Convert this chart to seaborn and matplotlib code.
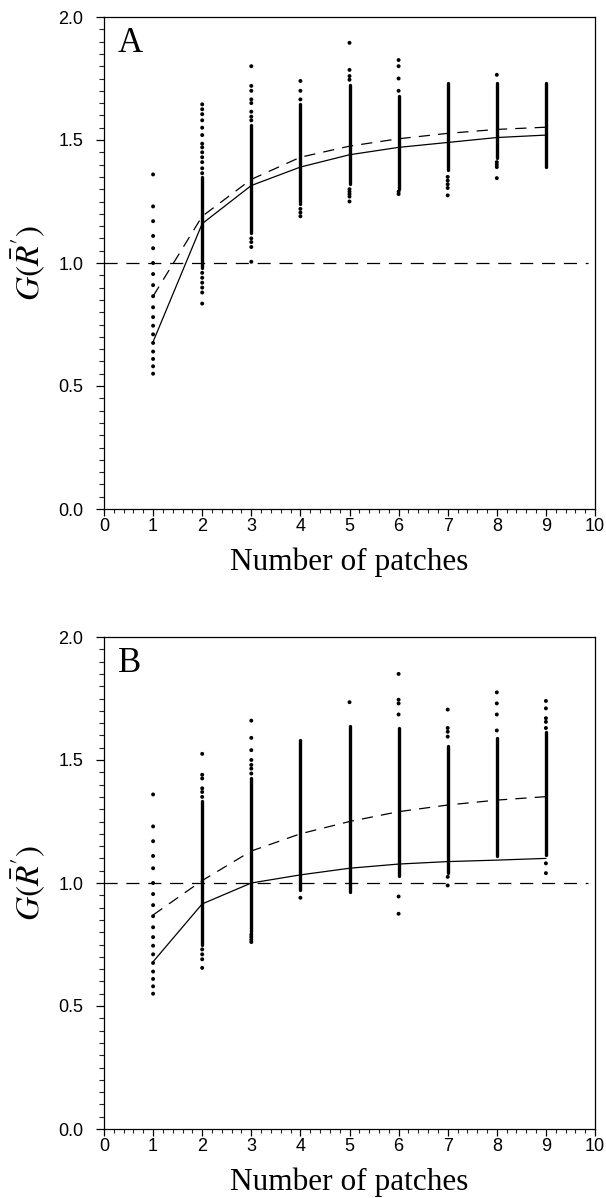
import numpy as np
import pandas as pd
import matplotlib
matplotlib.use("Agg")
import matplotlib.pyplot as plt
import seaborn as sns

# number of patches (x positions)
patches = [1, 2, 3, 4, 5, 6, 7, 8, 9]

# panel A: isolated dots per column, dense core (lo, hi) per column, two mean curves
a_sparse = [
    [1.36, 1.23, 1.17, 1.11, 1.06, 1.00, 0.955, 0.91, 0.865, 0.82, 0.78, 0.745, 0.71, 0.675, 0.64, 0.61, 0.58, 0.55],
    [1.645, 1.625, 1.605, 1.58, 1.55, 1.52, 1.485, 1.47, 1.45, 1.43, 1.41, 1.385, 1.365, 0.96, 0.94, 0.92, 0.90, 0.88, 0.835],
    [1.80, 1.72, 1.70, 1.665, 1.65, 1.615, 1.595, 1.58, 1.10, 1.085, 1.065, 1.005],
    [1.74, 1.70, 1.665, 1.22, 1.205, 1.19],
    [1.895, 1.785, 1.76, 1.745, 1.30, 1.29, 1.28, 1.27, 1.25],
    [1.825, 1.80, 1.75, 1.70, 1.29, 1.28],
    [1.35, 1.335, 1.32, 1.305, 1.275],
    [1.765, 1.41, 1.40, 1.39, 1.345],
    [],
]
a_dense_lo = [np.nan, 0.98, 1.12, 1.24, 1.32, 1.30, 1.38, 1.425, 1.39]
a_dense_hi = [np.nan, 1.35, 1.56, 1.645, 1.725, 1.68, 1.73, 1.73, 1.73]
a_solid = [0.68, 1.16, 1.315, 1.39, 1.44, 1.47, 1.49, 1.51, 1.52]
a_dashed = [0.865, 1.19, 1.34, 1.43, 1.475, 1.505, 1.527, 1.543, 1.552]

# panel B
b_sparse = [
    [1.36, 1.23, 1.17, 1.11, 1.06, 1.00, 0.955, 0.91, 0.865, 0.82, 0.78, 0.745, 0.71, 0.675, 0.64, 0.61, 0.58, 0.55],
    [1.525, 1.44, 1.425, 1.385, 1.37, 1.35, 0.73, 0.71, 0.69, 0.655],
    [1.66, 1.59, 1.54, 1.50, 1.48, 1.465, 1.445, 0.79, 0.78, 0.77, 0.76],
    [0.94],
    [1.735],
    [1.85, 1.745, 1.73, 1.685, 0.945, 0.875],
    [1.705, 1.63, 1.615, 1.595, 1.025, 0.99],
    [1.775, 1.73, 1.685, 1.62],
    [1.74, 1.71, 1.67, 1.655, 1.63, 1.08, 1.04],
]
b_dense_lo = [np.nan, 0.75, 0.80, 0.97, 0.965, 1.03, 1.04, 1.11, 1.115]
b_dense_hi = [np.nan, 1.335, 1.425, 1.58, 1.64, 1.63, 1.555, 1.59, 1.615]
b_solid = [0.68, 0.915, 1.0, 1.033, 1.06, 1.077, 1.087, 1.093, 1.10]
b_dashed = [0.87, 1.01, 1.13, 1.20, 1.25, 1.29, 1.317, 1.337, 1.351]

panel_letters = ["A", "B"]

sns.set_style("ticks")
plt.rcParams['font.family'] = ['Liberation Sans', 'DejaVu Sans']
plt.rcParams['mathtext.fontset'] = 'stix'
plt.rcParams['text.color'] = 'black'
plt.rcParams['axes.labelcolor'] = 'black'

fig = plt.figure(figsize=(6.06, 11.98), dpi=100)
W, H = 606, 1198
ax_a = fig.add_axes([104 / W, 689 / H, 491 / W, 492 / H])
ax_b = fig.add_axes([104 / W, 69 / H, 491 / W, 492 / H])

panels = [
    (ax_a, a_sparse, a_dense_lo, a_dense_hi, a_solid, a_dashed),
    (ax_b, b_sparse, b_dense_lo, b_dense_hi, b_solid, b_dashed),
]

for (ax, sparse, lo, hi, solid, dashed), letter in zip(panels, panel_letters):
    pts = pd.DataFrame([(p, v) for p, col in zip(patches, sparse) for v in col],
                       columns=['patches', 'g'])
    # dense cores of each column
    for p, l, h in zip(patches, lo, hi):
        if not np.isnan(l):
            ax.vlines(p, l, h, colors='black', linewidth=2.4, capstyle='round', zorder=2)
    sns.scatterplot(data=pts, x='patches', y='g', ax=ax, color='black', s=8,
                    edgecolor='none', linewidth=0, zorder=3, legend=False)
    curves = pd.DataFrame({'patches': patches, 'solid': solid, 'dashed': dashed})
    sns.lineplot(data=curves, x='patches', y='solid', ax=ax, color='black', lw=0.9, zorder=4)
    sns.lineplot(data=curves, x='patches', y='dashed', ax=ax, color='black', lw=0.9,
                 zorder=4).lines[-1].set_dashes((9, 6.5))
    ax.plot([0, 9.85], [1.0, 1.0], color='black', lw=0.9, dashes=(10.5, 7), zorder=1)

    ax.set_xlim(0, 10)
    ax.set_ylim(0, 2)
    ax.set_xticks(range(0, 11))
    ax.set_xticks(np.arange(0, 10.01, 0.2), minor=True)
    ax.set_yticks([0, 0.5, 1.0, 1.5, 2.0])
    ax.set_yticklabels(['0.0', '0.5', '1.0', '1.5', '2.0'])
    ax.set_yticks(np.arange(0, 2.001, 0.05), minor=True)
    ax.tick_params(axis='y', which='major', direction='out', length=6, width=0.9,
                   pad=9, labelsize=13, colors='black')
    ax.tick_params(axis='y', which='minor', direction='out', length=3.6, width=0.8)
    ax.tick_params(axis='x', which='major', direction='out', length=5, width=0.9,
                   pad=1.5, labelsize=13, colors='black')
    ax.tick_params(axis='x', which='minor', direction='out', length=3.2, width=0.8)
    for s in ax.spines.values():
        s.set_visible(True)
        s.set_color('black')
        s.set_linewidth(0.9)
    ax.set_xlabel('Number of patches', family=['Liberation Serif'], fontsize=22.5,
                  labelpad=9, color='black')
    ax.set_ylabel(r"$G(\bar{R}')$", fontsize=24, labelpad=8, color='black')
    ax.text(0.028, 0.98, letter, transform=ax.transAxes, ha='left', va='top',
            family=['Liberation Serif'], fontsize=25, color='black')

fig.savefig('out.png', dpi=100)
